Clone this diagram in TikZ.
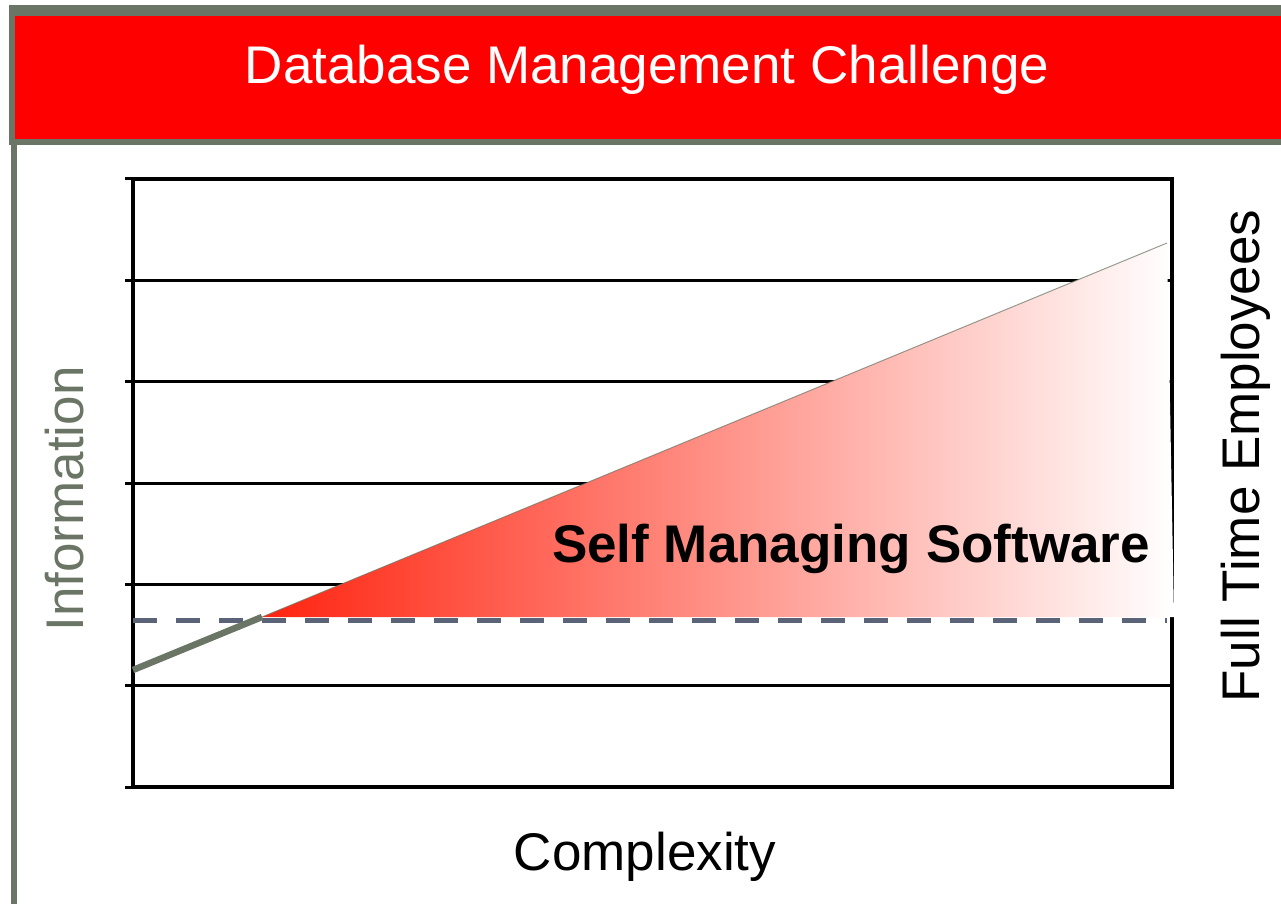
\documentclass[tikz,border=0pt]{standalone}
\usepackage{fontspec}
\setmainfont{Liberation Sans}
\definecolor{framegray}{HTML}{6B7565}
\definecolor{dashblue}{HTML}{5A6378}
\definecolor{tristart}{RGB}{255,36,16}
\begin{document}
\begin{tikzpicture}[x=1pt,y=-1pt,
  bigtext/.style={font=\fontsize{53}{60}\selectfont, inner sep=0pt},
  gridline/.style={line width=3pt, black},
  framebox/.style={line width=3.5pt, black},
  trendline/.style={line width=6.5pt, framegray},
  baseline dash/.style={line width=5pt, dashblue, dash pattern=on 24pt off 19pt}
  ]
\useasboundingbox (0,0) rectangle (1281,904);
% header
\fill[framegray] (9,5) rectangle (1281,145);
\fill[red] (15,16) rectangle (1281,139);
\fill[framegray] (11,145) rectangle (17,904);
\node[bigtext, text=white, anchor=base] (title) at (647,84) {Database Management Challenge};
% grid
\foreach \y in {179,280,381,483,584,685,787} \draw[gridline] (125,\y) -- (1172,\y);
\draw[framebox] (133,179) rectangle (1172,787);
% dashed level
\coordinate (dashL) at (133,620);
\coordinate (dashR) at (1167,620);
\draw[baseline dash] (dashL) -- (dashR);
% triangle
\coordinate (triL) at (262,617);
\coordinate (triT) at (1167,243);
\coordinate (triR) at (1174,617);
\path[left color=tristart, right color=white] (triL) -- (triT) -- (triR) -- cycle;
\draw[framegray, line width=1pt, opacity=0.7] (triL) -- (triT);
\coordinate (lineS) at (133,670);
\draw[trendline] (lineS) -- (triL);
% labels
\node[bigtext, font=\fontsize{53}{60}\selectfont\bfseries, anchor=base] (sms) at (851,562) {Self Managing Software};
\node[bigtext, text=framegray, rotate=90, anchor=base] (info) at (83,499) {Information};
\node[bigtext, rotate=90, anchor=base] (fte) at (1259,456) {Full Time Employees};
\node[bigtext, anchor=base] (cx) at (645,870) {Complexity};
\end{tikzpicture}
\end{document}
